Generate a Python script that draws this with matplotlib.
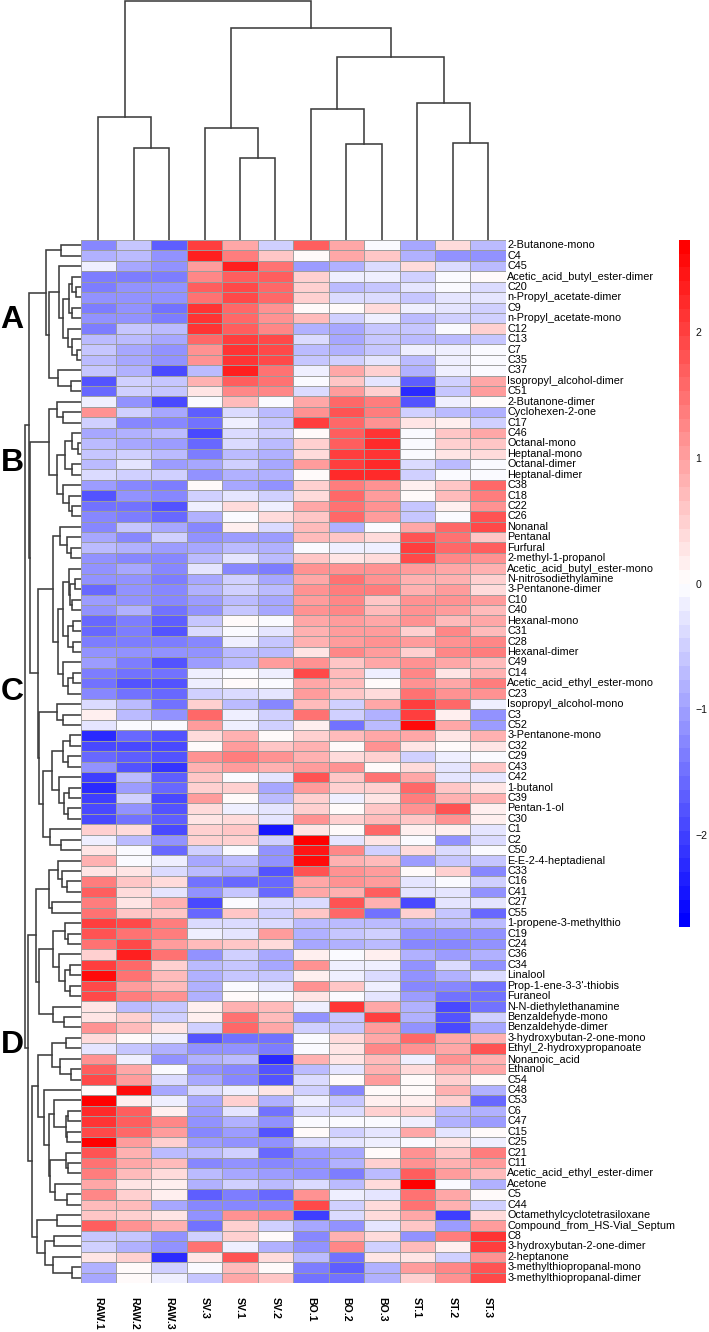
import numpy as np
import matplotlib
matplotlib.use('Agg')
import matplotlib.pyplot as plt
from matplotlib.colors import LinearSegmentedColormap, Normalize
from matplotlib.cm import ScalarMappable

plt.rcParams['font.family'] = ['Liberation Sans', 'DejaVu Sans']
plt.rcParams['axes.unicode_minus'] = True

W, H = 709, 1332

samples = ['RAW.1', 'RAW.2', 'RAW.3', 'SV.3', 'SV.1', 'SV.2', 'BO.1', 'BO.2', 'BO.3', 'ST.1', 'ST.2', 'ST.3']

compounds = ['2-Butanone-mono', 'C4', 'C45', 'Acetic_acid_butyl_ester-dimer', 'C20', 'n-Propyl_acetate-dimer', 'C9',
             'n-Propyl_acetate-mono', 'C12', 'C13', 'C7', 'C35', 'C37', 'Isopropyl_alcohol-dimer', 'C51',
             '2-Butanone-dimer', 'Cyclohexen-2-one', 'C17', 'C46', 'Octanal-mono', 'Heptanal-mono', 'Octanal-dimer',
             'Heptanal-dimer', 'C38', 'C18', 'C22', 'C26', 'Nonanal', 'Pentanal', 'Furfural', '2-methyl-1-propanol',
             'Acetic_acid_butyl_ester-mono', 'N-nitrosodiethylamine', '3-Pentanone-dimer', 'C10', 'C40', 'Hexanal-mono',
             'C31', 'C28', 'Hexanal-dimer', 'C49', 'C14', 'Acetic_acid_ethyl_ester-mono', 'C23',
             'Isopropyl_alcohol-mono', 'C3', 'C52', '3-Pentanone-mono', 'C32', 'C29', 'C43', 'C42', '1-butanol', 'C39',
             'Pentan-1-ol', 'C30', 'C1', 'C2', 'C50', 'E-E-2-4-heptadienal', 'C33', 'C16', 'C41', 'C27', 'C55',
             '1-propene-3-methylthio', 'C19', 'C24', 'C36', 'C34', 'Linalool', "Prop-1-ene-3-3'-thiobis", 'Furaneol',
             'N-N-diethylethanamine', 'Benzaldehyde-mono', 'Benzaldehyde-dimer', '3-hydroxybutan-2-one-mono',
             'Ethyl_2-hydroxypropanoate', 'Nonanoic_acid', 'Ethanol', 'C54', 'C48', 'C53', 'C6', 'C47', 'C15', 'C25',
             'C21', 'C11', 'Acetic_acid_ethyl_ester-dimer', 'Acetone', 'C5', 'C44', 'Octamethylcyclotetrasiloxane',
             'Compound_from_HS-Vial_Septum', 'C8', '3-hydroxybutan-2-one-dimer', '2-heptanone',
             '3-methylthiopropanal-mono', '3-methylthiopropanal-dimer']

values = [
    [-1.3, -0.6, -1.7, 2.0, 0.9, -0.5, 1.7, 0.9, -0.1, -0.9, 0.4, -0.7],
    [-0.8, -0.7, -1.2, 2.3, 1.4, 0.6, 0.0, 0.9, 0.6, -0.8, -1.2, -1.1],
    [-0.2, -0.9, -1.1, 1.0, 2.4, 1.5, -1.0, -0.8, -0.4, 0.4, -0.4, -0.7],
    [-1.4, -1.4, -1.4, 1.3, 1.7, 1.7, 0.5, -0.2, -0.2, -0.5, -0.1, 0.1],
    [-1.4, -1.2, -1.1, 1.7, 1.9, 1.6, 0.5, -0.7, -0.6, -0.3, -0.1, -0.4],
    [-1.2, -1.2, -1.2, 1.5, 1.9, 1.6, 0.5, -0.4, -0.4, -0.6, -0.3, -0.3],
    [-1.4, -1.2, -1.5, 2.1, 1.6, 1.1, 0.0, 0.0, 0.4, -0.2, -0.3, -0.5],
    [-1.2, -1.2, -1.4, 2.1, 1.6, 1.2, 0.7, -0.5, -0.2, -0.7, -0.5, -0.5],
    [-1.4, -0.6, -0.7, 2.1, 1.7, 1.3, -0.8, -0.9, -0.6, -0.6, -0.1, 0.5],
    [-0.7, -0.7, -0.9, 1.6, 2.0, 1.9, -0.4, -0.9, -0.6, -0.7, -0.7, -0.6],
    [-0.6, -0.9, -1.2, 1.2, 2.1, 1.9, -0.7, -0.8, -0.6, -0.2, -0.2, -0.1],
    [-0.7, -0.9, -1.2, 1.2, 2.1, 1.9, -0.6, -0.5, -0.3, -0.7, -0.2, -0.1],
    [-0.6, -0.8, -1.9, -0.7, 2.3, 1.5, -0.2, 0.9, 0.5, -0.8, -0.2, -0.1],
    [-1.8, -0.5, -0.6, 0.8, 1.7, 1.5, -0.1, 0.6, -0.3, -1.7, -0.5, 0.9],
    [-1.6, -0.5, -0.6, 0.3, 1.3, 1.3, -0.4, 1.0, 0.5, -2.2, -0.6, 1.0],
    [-0.2, -1.1, -1.9, -0.1, 0.7, -0.1, 0.9, 1.6, 1.4, -1.8, -0.2, 0.1],
    [1.1, -0.5, -0.9, -1.7, -0.4, -0.7, 1.2, 1.8, 1.4, -0.5, -0.7, -0.8],
    [-0.5, -1.3, -1.3, -1.5, -0.2, -0.6, 2.0, 1.6, 1.1, 0.3, 0.2, -0.5],
    [-0.9, -0.8, -0.7, -1.9, -0.4, -0.5, 0.0, 1.7, 2.1, -0.1, 0.6, 0.9],
    [-0.7, -0.9, -1.0, -1.6, -0.4, -0.7, 0.5, 1.7, 2.2, -0.1, 0.5, 0.6],
    [-0.6, -0.5, -0.7, -1.4, -0.7, -0.8, 0.4, 2.0, 2.1, -0.1, 0.3, 0.4],
    [-0.7, -0.3, -1.0, -0.9, -0.5, -0.9, 1.0, 2.0, 2.2, -0.4, -0.7, -0.1],
    [-0.4, -0.5, -0.5, -1.1, -0.8, -0.8, 0.1, 2.2, 2.2, -0.5, -0.1, -0.1],
    [-1.0, -1.3, -1.4, 0.1, -0.9, -1.1, 0.5, 1.4, 1.2, 0.2, 0.6, 1.6],
    [-1.8, -1.2, -1.3, -0.5, -0.3, -0.5, 0.4, 1.6, 1.0, 0.0, 0.7, 1.4],
    [-1.5, -1.5, -1.8, -0.2, 0.4, -0.2, 0.9, 1.5, 1.2, -0.6, 0.2, 1.2],
    [-1.3, -1.4, -1.6, -0.8, -0.1, 0.4, 0.6, 1.6, 1.0, -0.6, -0.05, 1.8],
    [-1.3, -0.6, -0.9, -1.3, 0.2, -0.4, 0.7, -0.8, -0.1, 0.9, 1.6, 1.9],
    [-0.9, -1.3, -0.5, -1.2, -1.0, -1.0, 0.7, 0.6, 0.4, 1.8, 1.5, 0.6],
    [-0.7, -0.8, -1.0, -0.9, -0.7, -0.8, -0.05, -0.2, -0.2, 2.0, 1.6, 1.7],
    [-1.1, -1.3, -1.3, -0.7, -0.3, -0.7, 0.6, 0.3, 0.4, 1.9, 1.3, 1.1],
    [-1.1, -0.9, -1.3, -0.3, -1.3, -1.4, 1.2, 1.2, 1.1, 1.0, 0.9, 0.8],
    [-1.1, -1.2, -1.4, -0.9, -0.5, -0.9, 0.9, 1.5, 1.2, 0.8, 0.8, 0.5],
    [-1.6, -1.1, -1.3, -0.8, -0.5, -0.7, 1.2, 1.4, 1.4, 0.8, 1.0, 0.4],
    [-1.0, -1.1, -1.3, -1.0, -0.7, -0.9, 1.0, 1.3, 0.6, 1.1, 1.2, 1.0],
    [-1.1, -0.8, -1.5, -1.1, -0.6, -0.9, 1.2, 1.3, 0.7, 1.2, 1.0, 0.7],
    [-1.6, -1.4, -1.7, -0.6, 0.05, -0.05, 0.9, 1.0, 0.9, 1.1, 0.7, 0.9],
    [-1.6, -1.4, -1.8, -0.4, -0.1, -0.3, 0.8, 1.0, 1.0, 0.5, 1.3, 0.7],
    [-1.4, -1.4, -1.4, -1.3, -0.2, -0.6, 0.8, 1.0, 1.1, 1.0, 1.1, 1.3],
    [-1.2, -1.2, -1.2, -1.1, -0.7, -0.7, 0.3, 1.3, 1.0, 0.5, 1.3, 1.4],
    [-1.0, -1.4, -1.8, -1.0, -0.7, 1.0, 1.2, 0.6, 0.9, 1.1, 0.9, 0.7],
    [-1.4, -1.5, -1.5, -0.2, -0.1, -0.2, 1.9, 0.7, -0.2, 1.3, 0.3, 0.8],
    [-1.5, -1.8, -1.8, -0.2, 0.1, -0.05, 0.9, 0.7, 0.1, 1.2, 0.9, 1.4],
    [-1.3, -1.5, -1.6, -0.5, -0.4, -0.3, 1.0, 0.6, 0.4, 1.5, 1.2, 1.1],
    [-0.4, -0.7, -1.5, 0.5, -0.7, -1.3, 0.7, -0.5, 0.9, 2.0, 1.6, -0.2],
    [0.2, -0.7, -1.1, 1.6, -0.2, -0.5, 1.5, -0.5, -0.8, 2.0, 0.2, -1.2],
    [-0.3, -0.05, -0.1, 1.0, -0.2, -0.5, 0.15, -1.5, -0.7, 2.6, 0.9, -1.0],
    [-2.2, -1.6, -1.8, 0.4, 0.8, 0.1, 0.5, 0.7, 0.9, 0.9, 0.3, 0.8],
    [-1.9, -1.9, -1.9, 0.1, 1.0, 0.6, 0.8, 0.1, 1.2, 0.3, 0.05, 0.3],
    [-1.6, -1.7, -1.8, 1.1, 1.4, 1.1, 0.8, 0.4, 0.5, -0.5, -0.2, -0.05],
    [-1.2, -1.8, -2.1, 0.8, 1.0, 0.8, 1.0, 1.1, 0.0, 0.4, -0.3, 0.6],
    [-2.0, -0.7, -1.7, 0.6, -0.1, -0.3, 1.8, 0.6, 1.5, 0.9, -0.3, -0.3],
    [-2.2, -1.0, -1.6, 0.5, 0.5, -0.9, 1.0, 0.5, 0.5, 1.6, 0.6, 0.3],
    [-2.0, -0.5, -1.9, 1.0, 0.03, -0.7, 0.5, -0.2, 0.3, 1.4, 0.8, 0.8],
    [-1.9, -1.1, -1.8, 0.4, -0.2, -0.3, 0.5, 0.05, 0.6, 1.2, 1.8, 0.2],
    [-1.9, -1.5, -1.7, 0.3, 0.4, -0.3, 1.2, 0.5, 0.7, 0.6, 1.1, 0.2],
    [0.5, 0.4, -1.9, 0.5, 0.6, -2.5, 0.3, 0.03, 1.6, 0.2, 0.2, -0.3],
    [-0.2, -0.7, -1.2, 0.5, 0.5, -0.5, 2.7, -0.3, 0.3, -0.05, -1.1, -0.4],
    [0.3, -0.05, -1.6, -0.5, -0.05, -1.2, 2.5, 1.3, -0.5, 0.4, -0.4, -0.05],
    [0.8, -0.05, -0.2, -0.9, -0.7, -1.1, 2.6, 0.8, 0.7, -1.0, -0.6, -0.6],
    [0.3, 0.3, -0.4, -0.7, -0.9, -1.8, 1.8, 1.2, 1.0, 0.05, 0.5, -1.3],
    [1.4, 0.6, 0.4, -1.5, -1.6, -1.6, 0.9, 1.2, 1.0, -0.3, -0.03, -0.5],
    [1.7, 0.4, -0.3, -1.2, -0.6, -1.6, 0.9, 0.8, 1.7, -0.3, -0.3, -1.2],
    [1.4, 0.3, 0.8, -1.9, -0.03, -0.4, -0.4, 1.8, 0.8, -1.9, -0.3, -0.3],
    [1.5, 0.6, 0.6, -1.6, 0.6, -0.5, 0.6, 1.6, -1.5, 0.5, -0.6, -1.6],
    [2.0, 1.9, 1.4, -0.4, -0.4, -0.4, -0.7, -0.7, -0.7, -0.8, -0.7, -0.7],
    [1.8, 1.5, 1.4, -0.2, -0.3, 1.0, -0.8, -0.6, -0.5, -1.1, -1.1, -1.1],
    [1.5, 1.9, 1.0, 0.7, 0.6, 0.4, -0.9, -0.8, -0.7, -1.3, -1.3, -1.2],
    [0.5, 2.3, 1.5, -1.2, -0.5, -0.9, 0.15, -0.03, 0.15, -0.8, -1.0, -0.8],
    [2.0, 1.6, 0.5, -0.7, -0.6, -0.9, 1.1, -0.2, -0.2, -1.1, -0.4, -1.1],
    [2.6, 1.5, 0.7, -0.8, -0.6, -0.6, 0.2, -0.2, -0.4, -1.1, -0.8, -0.4],
    [1.9, 1.0, 0.7, -0.8, -0.05, -0.3, 1.1, 0.6, -0.2, -1.3, -1.3, -1.5],
    [1.9, 1.4, 1.1, -0.8, 0.1, -0.03, 0.3, -0.03, -0.3, -1.0, -1.5, -1.5],
    [0.3, -0.7, -0.6, 0.2, 0.8, 0.7, -0.2, 2.1, 0.9, -0.8, -1.9, -1.5],
    [0.3, 0.5, -0.5, 0.15, 1.5, 0.7, -1.2, -0.6, 2.0, -0.8, -1.8, -0.5],
    [1.1, 0.7, 0.3, -0.5, 1.6, 0.9, -0.5, -0.6, 1.0, -1.1, -1.9, -0.9],
    [0.4, 0.1, -0.2, -1.8, -1.5, -1.5, -0.05, 0.4, 0.9, 1.6, 0.9, 0.8],
    [-0.3, -0.6, -0.8, -1.1, -1.2, -1.4, -0.03, 0.3, 1.3, 1.2, 0.9, 1.8],
    [1.2, -0.2, -1.2, -0.8, -0.7, -2.2, 0.8, 0.3, 0.7, -0.2, 1.2, 0.8],
    [1.7, 0.9, -0.03, -1.2, -1.3, -1.8, -0.7, -0.3, 0.8, 0.4, 0.8, 0.9],
    [1.9, 1.0, -0.4, -0.9, -1.3, -1.8, -0.4, 0.05, 1.0, 0.03, 0.5, 0.05],
    [0.05, 2.6, -0.9, -0.4, -0.2, 0.3, -0.5, -1.3, 0.05, 0.05, 0.8, -0.8],
    [2.7, 0.2, -0.2, -0.9, 0.5, -0.8, -0.2, -0.6, 0.2, 0.2, 0.5, -1.6],
    [2.2, 1.7, 0.2, -1.0, -0.3, -1.5, -0.4, -0.4, 0.5, 0.5, -0.7, -0.8],
    [2.1, 1.7, 1.3, -1.1, -0.8, -1.2, -0.03, -0.03, -0.03, -0.2, -0.8, -1.0],
    [1.9, 1.6, 1.0, -1.3, -1.0, -1.8, 0.05, -0.5, -0.3, 0.9, -0.3, 0.05],
    [2.7, 1.0, 0.5, -1.0, -1.1, -1.2, -0.4, -0.3, -0.2, -0.05, 0.3, -0.2],
    [1.8, 0.8, -0.7, -0.7, -0.5, -1.6, -1.0, -0.9, 0.05, 1.1, 0.6, 1.4],
    [1.5, 0.9, 0.7, -1.3, -1.2, -1.3, -1.1, -0.8, 0.5, 1.1, 0.8, 1.0],
    [1.4, 0.7, 0.4, -0.7, -0.9, -1.0, -1.1, -1.4, -0.7, 1.7, 1.0, 0.7],
    [0.9, 0.3, 0.2, -0.8, -0.5, -0.7, -0.4, -0.7, 0.4, 2.7, -0.03, -0.8],
    [1.3, 0.5, 0.2, -1.7, -1.4, -1.6, 1.2, -0.2, -0.3, 1.5, 0.9, 0.05],
    [0.7, 0.7, -0.9, -1.3, -1.3, -1.3, 1.9, -0.5, 0.4, 1.5, 0.8, -0.5],
    [0.6, 0.5, 0.3, -1.1, 1.2, 1.3, -2.0, -0.4, 0.4, 0.9, -2.0, 0.4],
    [1.7, 1.1, 0.8, -1.5, 0.5, -0.5, -0.9, -1.1, -0.3, 0.6, -1.0, 1.0],
    [-0.6, -0.6, -1.1, -0.5, 0.5, 0.05, -1.3, 0.8, 0.4, -1.1, 1.4, 2.1],
    [-0.5, -0.8, -1.2, 1.5, -0.2, -0.8, -1.1, 1.3, -0.5, 0.7, 0.2, 2.0],
    [0.3, 0.5, -2.2, 0.3, 1.8, 0.4, -0.7, -1.5, 0.3, 0.3, -0.5, 1.1],
    [-0.8, 0.03, -0.5, -0.03, 0.7, 0.03, -1.4, -1.7, -0.8, 1.0, 1.3, 1.8],
    [-0.9, 0.02, -0.2, -0.6, 0.9, 0.6, -1.5, -1.5, -0.8, 0.5, 1.2, 1.9],
]

# dendrograms: [merge height, left child, right child], an int is a leaf index
col_tree = [239.5,
            [123.3, 0, [91.7, 1, 2]],
            [211.7,
             [112, 3, [82, 4, 5]],
             [183.3,
              [131, 6, [96, 7, 8]],
              [136.7, 9, [97.3, 10, 11]]]]]

row_a = [104, [60, 0, 1],
         [94, [64, 2, [52, [35, [25, 3, [14, 4, 5]], [25, 6, 7]], [37, 8, [25, 9, [10, 10, 11]]]]],
          [67, 12, [29, 13, 14]]]]
row_b = [94, [72, 15, [52, 16, 17]],
         [72, [47, [25, 18, [7, 19, 20]], [27, 21, 22]],
          [52, 23, [35, 24, [27, 25, 26]]]]]
row_c1 = [82, [62, 27, [42, 28, [30, 29, 30]]],
          [69, [52, [35, 31, [31, [17, 32, 33], [27, 34, 35]]], [39, [24, 36, 37], [24, 38, 39]]],
           [54, 40, [37, [24, 41, 42], 43]]]]
row_c2 = [124, [72, 44, [54, 45, 46]],
          [112, [87, [54, [32, 47, 48], [39, 49, 50]],
                 [66, 51, [50, [34, 52, 53], [39, 54, 55]]]],
           [92, 56, [59, 57, 58]]]]
row_d1 = [135, [96, [67, 59, [55, 60, [42, 61, 62]]], [85, 63, 64]],
          [125, [82, [47, 65, [39, 66, 67]], [66, 68, [47, [32, 69, 70], [32, 71, 72]]]],
           [84, 73, [50, 74, 75]]]]
row_d2 = [146, [127, [86, [44, 76, 77], [62, 78, [30, 79, 80]]],
                [109, 81, [94, [79, 82, [45, [37, 83, 84], [42, 85, 86]]],
                           [92, [45, 87, [39, 88, 89]], [77, 90, [42, 91, 92]]]]]],
          [132, [70, 93, 94], [107, [79, 95, 96], [82, 97, [27, 98, 99]]]]]
row_tree = [167,
            [154, row_a, [152, row_b, [127, row_c1, row_c2]]],
            [159, row_d1, row_d2]]

group_letters = ['A', 'B', 'C', 'D']
group_label_y = [320, 463, 692, 1045]
cbar_ticks = [-2, -1, 0, 1, 2]
vlim = 2.73

line_color = '#3d3d3d'


def px_axes(x0, y0, x1, y1):
    # axes placed by pixel box, y counted from the top of the picture
    ax = fig.add_axes([x0 / W, 1 - y1 / H, (x1 - x0) / W, (y1 - y0) / H])
    ax.axis('off')
    return ax


def draw_tree(ax, node, vertical):
    # returns (leaf position, height) of the node
    if isinstance(node, int):
        return node + 0.5, 0
    h, a, b = node
    pa, ha = draw_tree(ax, a, vertical)
    pb, hb = draw_tree(ax, b, vertical)
    xs = [ha, h, h, hb]
    ys = [pa, pa, pb, pb]
    if vertical:
        ax.plot(ys, xs, color=line_color, lw=1.15, solid_capstyle='projecting', solid_joinstyle='miter')
    else:
        ax.plot(xs, ys, color=line_color, lw=1.15, solid_capstyle='projecting', solid_joinstyle='miter')
    return (pa + pb) / 2, h


fig = plt.figure(figsize=(W / 100, H / 100), dpi=100)

cmap = LinearSegmentedColormap.from_list('bwr50', ['#0000ff', '#ffffff', '#ff0000'], N=50)
norm = Normalize(-vlim, vlim)

hx0, hx1, hy0, hy1 = 80.6, 505.8, 240, 1283

ax = px_axes(hx0, hy0, hx1, hy1)
ax.pcolormesh(np.array(values), cmap=cmap, norm=norm, edgecolors='#9c9c9c', linewidth=0.65, antialiased=True)
ax.set_xlim(0, len(samples))
ax.set_ylim(len(compounds), 0)
for i, name in enumerate(compounds):
    ax.text(len(samples) + 0.04, i + 0.5, name, fontsize=7.8, va='center', ha='left', color='black')
for j, name in enumerate(samples):
    ax.text(j + 0.5, len(compounds) + 1.3, name, fontsize=7.6, fontweight='bold', rotation=270,
            va='top', ha='center', color='black')

ax_top = px_axes(hx0, 0, hx1, hy0)
draw_tree(ax_top, col_tree, True)
ax_top.set_xlim(0, len(samples))
ax_top.set_ylim(0, 240)

ax_left = px_axes(0, hy0, hx0, hy1)
draw_tree(ax_left, row_tree, False)
ax_left.set_xlim(242, 0)
ax_left.set_ylim(len(compounds), 0)

for letter, y in zip(group_letters, group_label_y):
    fig.text(12 / W, 1 - y / H, letter, fontsize=23, fontweight='bold', ha='center', va='center', color='black')

cax = fig.add_axes([679 / W, 1 - 927 / H, 11 / W, 687 / H])
cb = fig.colorbar(ScalarMappable(norm=norm, cmap=cmap), cax=cax)
cb.outline.set_visible(False)
cb.set_ticks(cbar_ticks)
cb.ax.tick_params(length=0, labelsize=7.6, pad=4, labelcolor='#111111')

fig.savefig('out.png', dpi=100)
